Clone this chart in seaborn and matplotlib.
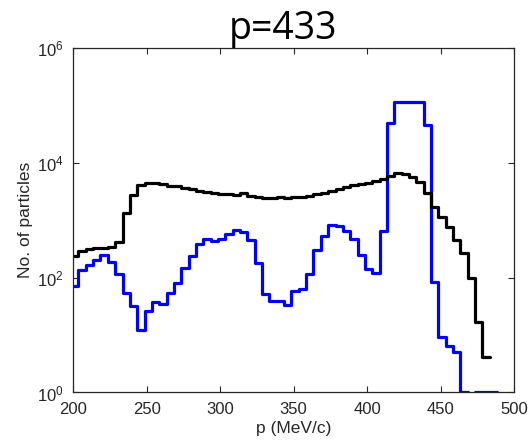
import numpy as np
import pandas as pd
import matplotlib
matplotlib.use("Agg")
import matplotlib.pyplot as plt
import seaborn as sns
from matplotlib.ticker import FixedLocator, NullLocator, LogFormatterSciNotation

# ---------------- data ----------------
title_text = "p=433"
x_label = "p (MeV/c)"
y_label = "No. of particles"

bin_width = 5.0
first_bin_centre = 201.0
n_bins = 59
bin_centres = first_bin_centre + bin_width * np.arange(n_bins)

black_counts = [
    239, 295, 316, 333, 325, 347, 418, 1350, 2760, 4120,
    4410, 4410, 4230, 4000, 3900, 3700, 3450, 3200, 3050, 3000,
    2850, 2830, 2720, 2930, 2600, 2520, 2480, 2490, 2530, 2470,
    2500, 2560, 2680, 2850, 3000, 3200, 3470, 3750, 4050, 4260,
    4500, 4800, 5300, 5990, 6770, 6370, 5700, 4660, 2930, 1730,
    1150, 775, 453, 265, 97.5, 17.1, 4.2, 0, 0,
]

blue_counts = [
    72, 136, 166, 203, 248, 190, 116, 55, 32.5, 12.3,
    26.5, 37.3, 34.3, 55, 82, 148, 239, 390, 467, 441,
    470, 580, 678, 632, 445, 180, 52, 40, 40, 33.4,
    59, 63, 116, 300, 540, 825, 805, 655, 467, 248,
    143, 122, 650, 49000, 116000, 116000, 116000, 116000, 45700, 85,
    9.4, 6.4, 5.1, 1, 0, 1, 1, 1, 0,
]

x_ticks = [200, 250, 300, 350, 400, 450, 500]
y_ticks = [1e0, 1e2, 1e4, 1e6]

# ---------------- style ----------------
sns.set_theme(style="ticks")
plt.rcParams["font.family"] = ["Liberation Sans", "DejaVu Sans"]
plt.rcParams["mathtext.fontset"] = "custom"
plt.rcParams["mathtext.rm"] = "Liberation Sans"
plt.rcParams["mathtext.it"] = "Liberation Sans:italic"
plt.rcParams["mathtext.bf"] = "Liberation Sans:bold"

fig = plt.figure(figsize=(5.28, 4.42), dpi=100)
fig.patch.set_facecolor("white")
ax = fig.add_axes([0.1388, 0.1120, 0.8347, 0.7794])
ax.set_facecolor("white")

bin_lo = first_bin_centre - bin_width / 2
bin_hi = bin_centres[-1] + bin_width / 2

df_blue = pd.DataFrame({"p": bin_centres, "n": blue_counts})
df_black = pd.DataFrame({"p": bin_centres, "n": black_counts})

sns.histplot(data=df_blue, x="p", weights="n", binwidth=bin_width,
             binrange=(bin_lo, bin_hi), element="step", fill=False,
             color="#0000ff", linewidth=2.3, ax=ax)
sns.histplot(data=df_black, x="p", weights="n", binwidth=bin_width,
             binrange=(bin_lo, bin_hi), element="step", fill=False,
             color="black", linewidth=2.3, ax=ax)

ax.set_yscale("log", nonpositive="mask")
ax.set_xlim(200, 500)
ax.set_ylim(1, 1e6)
ax.xaxis.set_major_locator(FixedLocator(x_ticks))
ax.yaxis.set_major_locator(FixedLocator(y_ticks))
ax.yaxis.set_major_formatter(LogFormatterSciNotation())
ax.xaxis.set_minor_locator(NullLocator())
ax.yaxis.set_minor_locator(NullLocator())

for s in ax.spines.values():
    s.set_visible(True)
    s.set_color("#262626")
    s.set_linewidth(0.9)

ax.tick_params(axis="both", which="major", direction="in", top=True, right=True,
               length=4, width=0.8, color="#262626", labelsize=12,
               labelcolor="#262626")
ax.tick_params(axis="x", pad=7)
ax.tick_params(axis="y", pad=7)

ax.set_xlabel(x_label, fontsize=12.5, color="#262626", labelpad=3)
ax.set_ylabel(y_label, fontsize=12.5, color="#262626", labelpad=3)

fig.text(283 / 528, 1 - 38.5 / 442, title_text, ha="center", va="baseline",
         fontsize=27, family=["Open Sans", "DejaVu Sans"], color="black")

fig.savefig("out.png", dpi=100, facecolor="white")
